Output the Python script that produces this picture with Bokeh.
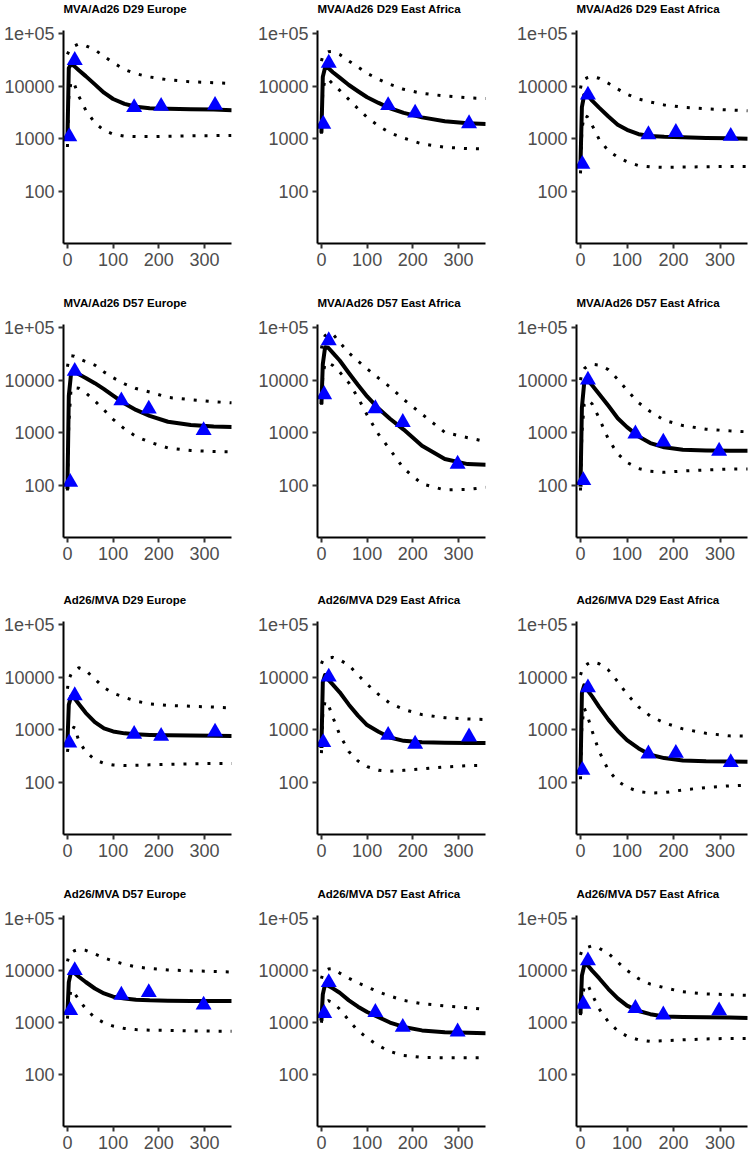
from bokeh.plotting import figure
from bokeh.layouts import column, row
from bokeh.models import Range1d, FixedTicker, Title
from bokeh.embed import file_html
from bokeh.resources import INLINE

TITLES = [
    "MVA/Ad26 D29 Europe", "MVA/Ad26 D29 East Africa", "MVA/Ad26 D29 East Africa",
    "MVA/Ad26 D57 Europe", "MVA/Ad26 D57 East Africa", "MVA/Ad26 D57 East Africa",
    "Ad26/MVA D29 Europe", "Ad26/MVA D29 East Africa", "Ad26/MVA D29 East Africa",
    "Ad26/MVA D57 Europe", "Ad26/MVA D57 East Africa", "Ad26/MVA D57 East Africa",
]

X_TICKS = [0, 100, 200, 300]
Y_TICKS = [100, 1000, 10000, 100000]
Y_TICK_LABELS = ["100", "1000", "10000", "1e+05"]

# model time grid (days) and observation days
T_MODEL = [0, 3, 8, 15, 25, 40, 60, 80, 100, 125, 150, 180, 220, 270, 320, 360]
T_OBS_D29 = [4, 16, 146, 205, 323]
T_OBS_D57 = [6, 16, 118, 178, 298]

# Panel 1: MVA/Ad26 D29 Europe
P1_MED = [950, 22000, 26500, 24000, 20000, 15500, 10800, 7500, 5700, 4600, 4050, 3800, 3700, 3650, 3580, 3500]
P1_HI = [40000, 46000, 52000, 58000, 63500, 58600, 49000, 36800, 28000, 20700, 17200, 14900, 13200, 12100, 11600, 11200]
P1_LO = [700, 6000, 12500, 11000, 6400, 3500, 2000, 1450, 1220, 1120, 1100, 1100, 1120, 1140, 1150, 1160]
P1_OBS = [1100, 31000, 3940, 4170, 4360]

# Panel 2: MVA/Ad26 D29 East Africa
P2_MED = [1300, 15000, 22500, 22000, 18400, 14500, 10500, 8000, 6150, 4800, 3800, 3100, 2550, 2150, 1970, 1900]
P2_HI = [30000, 38000, 42000, 45000, 45500, 40000, 30000, 23000, 17500, 13500, 10800, 8700, 7300, 6500, 6000, 5800]
P2_LO = [1250, 8000, 13500, 13500, 11000, 8300, 5600, 3730, 2550, 1750, 1300, 1030, 800, 690, 650, 640]
P2_OBS = [1900, 27500, 4300, 3090, 1950]

# Panel 3: MVA/Ad26 D29 East Africa
P3_MED = [330, 4000, 6800, 6800, 5300, 3900, 2650, 1850, 1480, 1220, 1130, 1090, 1070, 1040, 1020, 1000]
P3_HI = [9000, 12600, 13500, 14500, 15300, 14100, 11300, 8800, 7000, 5700, 5000, 4400, 3980, 3700, 3520, 3400]
P3_LO = [220, 1500, 2800, 2600, 1810, 980, 590, 450, 367, 309, 292, 286, 290, 295, 298, 298]
P3_OBS = [330, 6800, 1200, 1330, 1120]

# Panel 4: MVA/Ad26 D57 Europe
P4_MED = [85, 5000, 13500, 14800, 12900, 11000, 8760, 6730, 5060, 3600, 2720, 2100, 1620, 1400, 1310, 1290]
P4_HI = [18000, 25000, 29000, 28500, 25600, 22600, 19300, 14300, 11100, 8500, 6930, 5950, 4700, 4250, 3900, 3700]
P4_LO = [80, 1500, 7000, 7200, 7000, 5790, 4030, 2720, 1800, 1180, 852, 665, 515, 459, 440, 435]
P4_OBS = [115, 14800, 4060, 2840, 1110]

# Panel 5: MVA/Ad26 D57 East Africa
P5_MED = [3500, 20000, 42000, 41300, 33000, 23600, 13700, 8090, 4900, 2880, 1850, 1150, 566, 318, 254, 246]
P5_HI = [40000, 55000, 70000, 78000, 75000, 52000, 32800, 23000, 16400, 10900, 7400, 4300, 2260, 1020, 807, 680]
P5_LO = [3400, 12000, 21000, 21000, 19000, 14200, 8870, 4640, 2180, 935, 480, 210, 107, 82, 84, 92]
P5_OBS = [5330, 56500, 2880, 1580, 254]

# Panel 6: MVA/Ad26 D57 East Africa
P6_MED = [95, 3000, 9000, 10000, 8030, 5470, 3250, 1890, 1280, 853, 638, 531, 475, 460, 455, 455]
P6_HI = [10000, 14000, 16500, 18500, 20000, 19300, 15800, 10400, 6460, 3710, 2530, 1730, 1370, 1170, 1090, 1040]
P6_LO = [80, 1000, 3500, 4200, 3550, 1900, 755, 399, 274, 209, 185, 177, 188, 197, 204, 204]
P6_OBS = [124, 10100, 957, 670, 449]

# Panel 7: Ad26/MVA D29 Europe
P7_MED = [550, 3000, 4300, 4000, 3100, 2100, 1400, 1060, 930, 855, 820, 800, 785, 775, 770, 765]
P7_HI = [6000, 9000, 11400, 12800, 15100, 13500, 9140, 6350, 4950, 4140, 3500, 3100, 2910, 2800, 2700, 2600]
P7_LO = [380, 600, 900, 1150, 614, 383, 270, 230, 215, 210, 212, 216, 220, 226, 230, 230]
P7_OBS = [566, 4470, 824, 755, 912]

# Panel 8: Ad26/MVA D29 East Africa
P8_MED = [450, 8000, 11000, 9000, 7200, 5150, 3000, 1860, 1230, 916, 714, 616, 580, 570, 563, 559]
P8_HI = [18000, 20800, 22000, 23000, 23800, 21300, 16800, 11000, 7330, 4690, 3180, 2440, 1940, 1690, 1610, 1560]
P8_LO = [360, 2000, 3500, 3000, 1730, 805, 385, 256, 200, 170, 163, 170, 180, 197, 208, 211]
P8_OBS = [576, 10100, 789, 536, 734]

# Panel 9: Ad26/MVA D29 East Africa
P9_MED = [140, 5000, 7000, 5660, 4300, 2720, 1560, 955, 634, 443, 335, 290, 262, 253, 250, 248]
P9_HI = [11000, 13400, 15500, 17800, 19600, 18000, 13600, 8200, 4730, 2710, 1820, 1360, 1040, 857, 766, 755]
P9_LO = [115, 1200, 2600, 1830, 948, 389, 170, 106, 81, 67, 63, 64, 72, 80, 86, 89]
P9_OBS = [171, 6310, 350, 360, 239]

# Panel 10: Ad26/MVA D57 Europe
P10_MED = [1500, 6000, 9400, 9000, 7620, 6050, 4540, 3650, 3160, 2910, 2760, 2690, 2650, 2620, 2620, 2610]
P10_HI = [15000, 19000, 22000, 24000, 25500, 24500, 20800, 17500, 15300, 13200, 11800, 11000, 10300, 9900, 9650, 9400]
P10_LO = [1200, 2500, 4300, 3700, 2790, 1850, 1250, 1000, 865, 776, 740, 722, 715, 700, 690, 690]
P10_OBS = [1720, 10100, 3400, 3820, 2200]

# Panel 11: Ad26/MVA D57 East Africa
P11_MED = [1100, 3500, 5500, 5140, 4570, 3760, 2690, 2030, 1610, 1280, 1010, 832, 714, 660, 640, 627]
P11_HI = [7000, 8750, 10000, 10700, 10900, 8970, 7130, 5830, 4870, 3890, 3260, 2680, 2320, 2110, 1940, 1800]
P11_LO = [1000, 1800, 2500, 2650, 2450, 1830, 1110, 707, 512, 363, 281, 236, 216, 214, 214, 214]
P11_OBS = [1520, 5940, 1590, 822, 672]

# Panel 12: Ad26/MVA D57 East Africa
P12_MED = [1500, 8000, 12500, 12800, 10000, 7160, 4430, 2930, 2130, 1680, 1460, 1320, 1290, 1270, 1260, 1230]
P12_HI = [20000, 24500, 26500, 28000, 30000, 26900, 21300, 14600, 10100, 7010, 5500, 4720, 3920, 3580, 3450, 3350]
P12_LO = [1400, 3000, 4800, 5500, 3490, 1850, 1040, 700, 553, 469, 439, 452, 470, 490, 500, 500]
P12_OBS = [2280, 15500, 1890, 1420, 1710]

PANELS = [
    (T_OBS_D29, P1_OBS, P1_MED, P1_HI, P1_LO),
    (T_OBS_D29, P2_OBS, P2_MED, P2_HI, P2_LO),
    (T_OBS_D29, P3_OBS, P3_MED, P3_HI, P3_LO),
    (T_OBS_D57, P4_OBS, P4_MED, P4_HI, P4_LO),
    (T_OBS_D57, P5_OBS, P5_MED, P5_HI, P5_LO),
    (T_OBS_D57, P6_OBS, P6_MED, P6_HI, P6_LO),
    (T_OBS_D29, P7_OBS, P7_MED, P7_HI, P7_LO),
    (T_OBS_D29, P8_OBS, P8_MED, P8_HI, P8_LO),
    (T_OBS_D29, P9_OBS, P9_MED, P9_HI, P9_LO),
    (T_OBS_D57, P10_OBS, P10_MED, P10_HI, P10_LO),
    (T_OBS_D57, P11_OBS, P11_MED, P11_HI, P11_LO),
    (T_OBS_D57, P12_OBS, P12_MED, P12_HI, P12_LO),
]

COL_W = [254, 251, 245]
COL_LEFT = [60, 60, 71]
COL_RIGHT = [23, 20, 3]
FRAME_H = 214
ROW_TOP = [29, 29, 29, 27]
ROW_BOTTOM = [51, 54, 51, 30]
SPACER = 13

FONT = "Liberation Sans"


def style_axis(ax, standoff):
    ax.axis_line_color = "black"
    ax.axis_line_width = 2
    ax.major_tick_line_color = "#333333"
    ax.major_tick_line_width = 2
    ax.major_tick_out = 5
    ax.major_tick_in = 0
    ax.minor_tick_line_color = None
    ax.major_label_text_font = FONT
    ax.major_label_text_font_size = "18px"
    ax.major_label_text_color = "#4D4D4D"
    ax.major_label_standoff = standoff


def make_panel(i):
    r, c = divmod(i, 3)
    t_obs, obs, med, hi, lo = PANELS[i]
    p = figure(
        width=COL_W[c], height=ROW_TOP[r] + FRAME_H + ROW_BOTTOM[r],
        x_range=Range1d(-8.6, 359), y_range=Range1d(10.25, 114000),
        y_axis_type="log", output_backend="svg", toolbar_location=None,
        min_border_left=COL_LEFT[c], min_border_right=COL_RIGHT[c],
        min_border_top=ROW_TOP[r], min_border_bottom=ROW_BOTTOM[r],
        title=TITLES[i],
    )
    p.title.text_font = FONT
    p.title.text_font_size = "11.5px"
    p.title.text_font_style = "bold"
    p.title.text_color = "black"
    p.title.align = "left"
    p.title.standoff = 0
    p.title.vertical_align = "bottom"
    # blank spacer placed between the frame and the panel title
    p.add_layout(Title(text=" ", text_font_size="1px", standoff=SPACER), "above")

    p.outline_line_color = None
    p.xgrid.visible = False
    p.ygrid.visible = False
    p.background_fill_color = "white"
    p.border_fill_color = "white"

    p.xaxis.ticker = FixedTicker(ticks=X_TICKS, minor_ticks=[])
    p.yaxis.ticker = FixedTicker(ticks=Y_TICKS, minor_ticks=[])
    p.yaxis.major_label_overrides = dict(zip(Y_TICKS, Y_TICK_LABELS))
    style_axis(p.xaxis[0], 4)
    style_axis(p.yaxis[0], 4)

    p.line(T_MODEL, hi, line_color="black", line_width=3, line_dash="3 9")
    p.line(T_MODEL, lo, line_color="black", line_width=3, line_dash="3 9")
    p.line(T_MODEL, med, line_color="black", line_width=4, line_join="round")
    p.scatter(t_obs, obs, marker="triangle", size=16,
              fill_color="#0000FF", line_color=None)
    return p


figs = [make_panel(i) for i in range(12)]
layout = column(*[row(*figs[r * 3:(r + 1) * 3]) for r in range(4)])

with open("out.html", "w") as f:
    f.write(file_html(layout, INLINE))
